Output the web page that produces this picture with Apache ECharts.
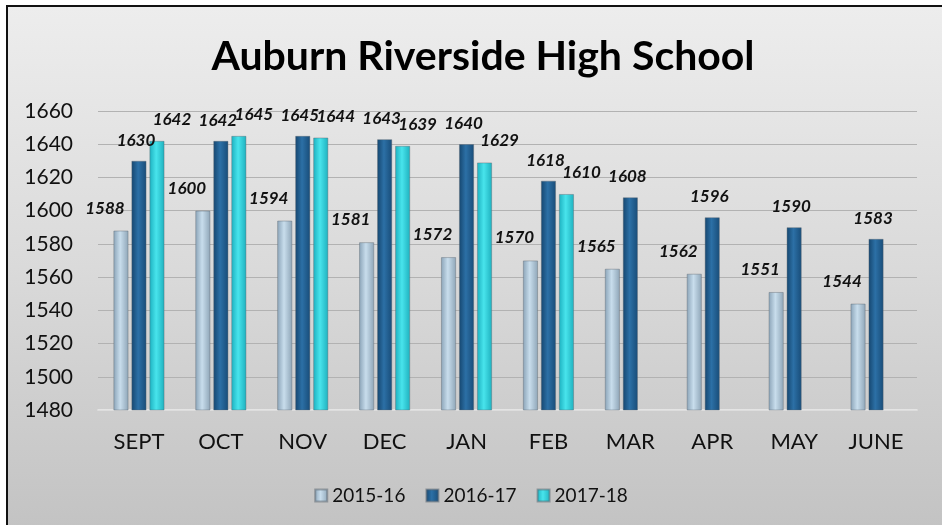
<!DOCTYPE html>
<html>
<head>
<meta charset="utf-8">
<script src="https://cdn.jsdelivr.net/npm/echarts@6/dist/echarts.min.js"></script>
<style>
  html, body { margin: 0; padding: 0; background: #ffffff; }
  #bg { position: absolute; left: 6px; top: 5px; width: 936px; height: 520px;
        border-left: 2px solid #111; border-top: 2px solid #111;
        background: linear-gradient(to bottom, #ededed 0%, #dadada 50%, #c3c3c3 100%); }
  #chart { position: absolute; left: 0; top: 0; width: 942px; height: 525px; }
</style>
</head>
<body>
<div id="bg"></div>
<div id="chart"></div>
<script>
const titleText = 'Auburn Riverside High School';
const categories = ['SEPT', 'OCT', 'NOV', 'DEC', 'JAN', 'FEB', 'MAR', 'APR', 'MAY', 'JUNE'];
const seriesNames = ['2015-16', '2016-17', '2017-18'];
const values2015 = [1588, 1600, 1594, 1581, 1572, 1570, 1565, 1562, 1551, 1544];
const values2016 = [1630, 1642, 1645, 1643, 1640, 1618, 1608, 1596, 1590, 1583];
const values2017 = [1642, 1645, 1644, 1639, 1629, 1610, null, null, null, null];
const yMin = 1480, yMax = 1660, yStep = 20;

const FONT = 'Lato, "Liberation Sans", sans-serif';

function grad(edge, mid, edge2) {
  return new echarts.graphic.LinearGradient(0, 0, 1, 0, [
    { offset: 0, color: edge },
    { offset: 0.45, color: mid },
    { offset: 1, color: edge2 }
  ]);
}

const styles = [
  { fill: grad('#8aa3b7', '#c8ddec', '#8ea5b7'), legend: '#a6bfd2', dist: 14, off: [-16, 0] },
  { fill: grad('#15466f', '#2c70a6', '#184c78'), legend: '#1e5f92', dist: 12, off: [-3, 0] },
  { fill: grad('#1cb0bf', '#48e4ec', '#1eb0be'), legend: '#30d2da', dist: 13, off: [15, 0] }
];
const dataSets = [values2015, values2016, values2017];

const chart = echarts.init(document.getElementById('chart'));
chart.setOption({
  backgroundColor: 'transparent',
  animation: false,
  title: {
    text: titleText,
    left: 478, top: 31, textAlign: 'center',
    textStyle: { fontFamily: FONT, fontWeight: 'bold', fontSize: 41, color: '#000' }
  },
  legend: {
    left: 'center', top: 481,
    itemWidth: 12, itemHeight: 12, itemGap: 20,
    icon: 'rect',
    textStyle: { fontFamily: FONT, fontSize: 19, color: '#111' },
    data: seriesNames
  },
  grid: { left: 98, right: 25, top: 111, bottom: 115 },
  xAxis: {
    type: 'category',
    data: categories,
    axisLine: { show: true, lineStyle: { color: '#ececec', width: 1.5 } },
    axisTick: { show: false },
    axisLabel: { fontFamily: FONT, fontSize: 22, color: '#111', margin: 21 }
  },
  yAxis: {
    type: 'value',
    min: yMin, max: yMax, interval: yStep,
    axisLine: { show: false },
    axisTick: { show: false },
    splitLine: { lineStyle: { color: '#b2b2b2', width: 1.2 } },
    axisLabel: { fontFamily: FONT, fontSize: 21, color: '#111', margin: 25, formatter: v => String(v) }
  },
  series: dataSets.map((d, i) => ({
    name: seriesNames[i],
    type: 'bar',
    data: d,
    barWidth: 15,
    barGap: '20%',
    color: styles[i].legend,
    itemStyle: { color: styles[i].fill, borderColor: 'rgba(90,100,110,0.5)', borderWidth: 0.8 },
    label: {
      show: true, position: 'top', distance: styles[i].dist, offset: styles[i].off,
      fontFamily: FONT, fontSize: 17, fontWeight: 'bold', fontStyle: 'italic', color: '#111',
      formatter: p => (p.value == null ? '' : String(p.value))
    }
  }))
});
</script>
</body>
</html>
